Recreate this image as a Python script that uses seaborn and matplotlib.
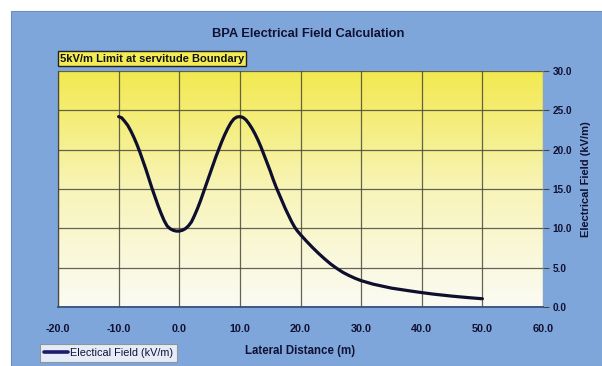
import numpy as np
import pandas as pd
import matplotlib
matplotlib.use("Agg")
import matplotlib.pyplot as plt
from matplotlib.patches import Rectangle
from matplotlib.colors import LinearSegmentedColormap
import seaborn as sns

# Lateral distance from centreline (m) and calculated field (kV/m)
lateral_distance = [-10, -9.5, -9, -8.5, -8, -7.5, -7, -6.5, -6, -5.5, -5, -4.5, -4, -3.5,
                    -3, -2.5, -2, -1.5, -1, -0.5, 0, 0.5, 1, 1.5, 2, 2.5, 3, 3.5, 4, 4.5,
                    5, 5.5, 6, 6.5, 7, 7.5, 8, 8.5, 9, 9.5, 10, 10.5, 11, 11.5, 12, 12.5,
                    13, 13.5, 14, 14.5, 15, 15.5, 16, 16.5, 17, 17.5, 18, 18.5, 19, 19.5,
                    20, 21, 22, 23, 24, 25, 26, 27, 28, 29, 30, 32, 35, 38, 40, 42, 45, 48, 50]
electric_field = [24.2, 24.05, 23.6, 23.1, 22.4, 21.6, 20.7, 19.7, 18.6, 17.5, 16.3, 15.1,
                  14.0, 12.9, 11.9, 11.0, 10.3, 9.95, 9.75, 9.65, 9.65, 9.75, 9.95, 10.3,
                  10.8, 11.6, 12.5, 13.5, 14.6, 15.7, 16.8, 17.9, 19.0, 20.0, 21.0, 21.9,
                  22.7, 23.4, 23.9, 24.15, 24.2, 24.1, 23.8, 23.3, 22.7, 22.0, 21.2, 20.3,
                  19.3, 18.3, 17.3, 16.2, 15.2, 14.3, 13.4, 12.5, 11.7, 10.9, 10.2, 9.65,
                  9.2, 8.35, 7.55, 6.8, 6.1, 5.45, 4.9, 4.4, 4.0, 3.65, 3.35, 2.9, 2.4,
                  2.05, 1.83, 1.63, 1.38, 1.17, 1.05]

x_ticks = [-20, -10, 0, 10, 20, 30, 40, 50, 60]
y_ticks = [0, 5, 10, 15, 20, 25, 30]

title_text = "BPA Electrical Field Calculation"
note_text = "5kV/m Limit at servitude Boundary"
series_name = "Electical Field (kV/m)"
x_title = "Lateral Distance (m)"
y_title = "Electrical Field (kV/m)"

df = pd.DataFrame({"distance": lateral_distance, "field": electric_field})

sns.set_theme(style="white")
plt.rcParams["font.family"] = ["Liberation Sans", "DejaVu Sans"]

W, H = 602, 366
fig = plt.figure(figsize=(W / 100, H / 100), dpi=100)
fig.patch.set_facecolor("white")

# blue chart panel behind everything
panel_col = "#7fa6da"
fig.patches.append(Rectangle((11 / W, 0), 1 - 11 / W, (H - 11) / H,
                             transform=fig.transFigure, facecolor=panel_col,
                             edgecolor="#6d8fbf", lw=0.8, zorder=-10))

ax = fig.add_axes([58 / W, (H - 307) / H, 485 / W, 236 / H])
ax.set_zorder(1)
ax.set_xlim(-20, 60)
ax.set_ylim(0, 30)

# yellow-to-white gradient plot area
cmap = LinearSegmentedColormap.from_list("yw", ["#fbfbf4", "#f8f4b8", "#f2e94e"])
grad = np.linspace(0, 1, 256).reshape(-1, 1)
ax.imshow(grad, extent=(-20, 60, 0, 30), origin="lower", aspect="auto",
          cmap=cmap, zorder=0)

ax.set_xticks(x_ticks)
ax.set_yticks(y_ticks)
ax.grid(True, color="#4a4a3a", lw=0.9, alpha=0.85, zorder=1)
ax.set_axisbelow(False)

sns.lineplot(data=df, x="distance", y="field", ax=ax, color="#0e0e2e",
             lw=2.3, label=series_name, zorder=3, legend=False)

for s in ["top", "right"]:
    ax.spines[s].set_visible(False)
ax.spines["left"].set_color("#4a4a3a")
ax.spines["left"].set_linewidth(0.9)
ax.spines["bottom"].set_color("#3c5a8a")
ax.spines["bottom"].set_linewidth(1.4)

ax.yaxis.tick_right()
ax.tick_params(axis="y", which="both", right=True, left=False, length=4,
               color="#4a4a3a", width=0.8, pad=3, labelsize=7.2, labelcolor="#111133")
ax.tick_params(axis="x", which="both", bottom=False, length=0, pad=12,
               labelsize=7.8, labelcolor="#111133")
ax.set_xticklabels([f"{v:.1f}" for v in x_ticks], fontweight="bold")
ax.set_yticklabels([f"{v:.1f}" for v in y_ticks], fontweight="bold")
for lbl in ax.get_yticklabels():
    lbl.set_horizontalalignment("left")
ax.set_xlabel("")
ax.set_ylabel("")

fig.text(308 / W, 1 - 34 / H, title_text, ha="center", va="center",
         fontsize=9.3, fontweight="bold", color="#111133")
fig.text(300 / W, 1 - 351 / H, x_title, ha="center", va="center",
         fontsize=8.3, fontweight="bold", color="#111133")
fig.text(586 / W, 1 - 179 / H, y_title, ha="center", va="center", rotation=90,
         fontsize=8.0, fontweight="bold", color="#111133")

fig.text(60 / W, 1 - 58.5 / H, note_text, ha="left", va="center",
         fontsize=8.0, fontweight="bold", color="#111111",
         bbox=dict(boxstyle="square,pad=0.2", facecolor="#f3ec55",
                   edgecolor="#222222", lw=1.0))

handles, labels = ax.get_legend_handles_labels()
leg = fig.legend(handles, labels, loc="lower left",
                 bbox_to_anchor=(40 / W, (H - 362) / H), frameon=True,
                 fontsize=7.8, handlelength=2.2, handletextpad=0.2,
                 borderpad=0.35, borderaxespad=0, fancybox=False)
leg.get_frame().set_facecolor("white")
leg.get_frame().set_edgecolor("#888888")
leg.get_frame().set_linewidth(0.8)
for t in leg.get_texts():
    t.set_color("#111133")
for ln in leg.get_lines():
    ln.set_color("#1c1c6e")
    ln.set_linewidth(2.6)

fig.savefig("out.png", dpi=100, facecolor=fig.get_facecolor())
